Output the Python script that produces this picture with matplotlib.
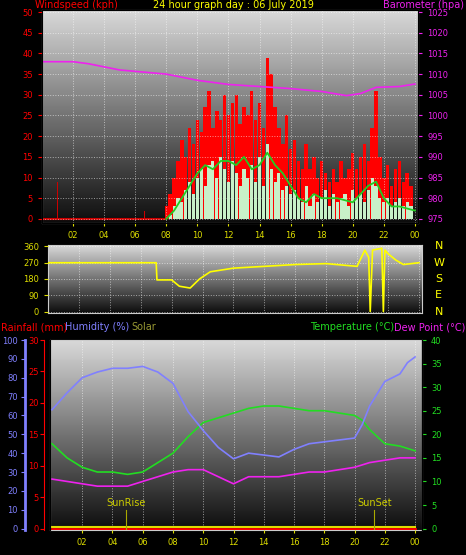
import numpy as np
import matplotlib
matplotlib.use("Agg")
import matplotlib.pyplot as plt

# wind, 15 min steps from 08:00
gust_t = np.arange(8.0, 24.0, 0.25)
gust = [3, 6, 10, 14, 19, 15, 22, 18, 24, 21, 27, 31, 22, 26, 24, 30,
        25, 28, 30, 23, 27, 25, 31, 24, 28, 22, 39, 35, 27, 22, 18, 25,
        17, 19, 14, 12, 18, 12, 15, 10, 14, 11, 9, 12, 9, 14, 10, 12,
        16, 12, 15, 18, 14, 22, 31, 15, 10, 13, 8, 12, 14, 9, 11, 8]
avg = [0, 1, 3, 5, 4, 7, 9, 6, 10, 12, 8, 13, 14, 10, 15, 12,
       9, 14, 11, 8, 12, 10, 13, 9, 15, 8, 18, 12, 9, 11, 7, 8,
       6, 7, 5, 4, 8, 3, 6, 4, 5, 7, 3, 6, 4, 5, 6, 3,
       7, 5, 6, 4, 7, 10, 8, 5, 4, 5, 3, 4, 5, 3, 4, 3]
wavg_t = [8, 8.5, 9, 9.5, 10, 10.5, 11, 11.5, 12, 12.5, 13, 13.5, 14, 14.5, 15, 15.5,
          16, 16.5, 17, 17.5, 18, 19, 20, 20.5, 21, 21.5, 22, 22.5, 23, 24]
wavg = [0, 2, 5, 8, 11, 13, 12, 14, 14, 13, 15, 12, 13, 16, 13, 11,
        8, 5, 4, 6, 5, 5, 4, 6, 8, 9, 5, 3, 3, 2]
spike_t = [1.0, 6.6]
spike = [9, 2]

baro_t = [0, 2, 3, 5, 8, 10, 12, 14, 16, 18, 19.6, 20.5, 21.5, 23, 24]
baro = [1013, 1013, 1012.5, 1011, 1010, 1008.5, 1007.5, 1007, 1006.5, 1005.8, 1004.8, 1005.3, 1006.8, 1007, 1007.6]

dir_t = [0, 7, 7.05, 8, 8.5, 9.2, 9.8, 10.5, 12, 14, 16, 18, 20, 20.5, 20.75, 20.85, 21,
         21.6, 21.7, 21.8, 22, 22.5, 23, 24]
wdir = [270, 270, 175, 175, 140, 130, 180, 220, 240, 250, 260, 265, 250, 340, 300, 0, 340,
        350, 0, 340, 320, 285, 260, 270]

hrs = [0, 1, 2, 3, 4, 5, 6, 7, 8, 9, 10, 11, 12, 13, 14, 15, 16, 17, 18, 19, 20, 20.5, 21, 22, 23, 23.5, 24]
hum = [63, 72, 80, 83, 85, 85, 86, 83, 77, 62, 52, 43, 37, 40, 39, 38, 42, 45, 46, 47, 48, 55, 65, 78, 82, 88, 91]
temp = [18, 15, 13, 12, 12, 11.5, 12, 14, 16, 19.5, 22.5, 23.5, 24.5, 25.5, 26, 26, 25.5, 25, 25, 24.5, 24, 23, 21, 18, 17.5, 17, 16.5]
dew = [10.5, 10, 9.5, 9, 9, 9, 10, 11, 12, 12.5, 12.5, 11, 9.5, 11, 11, 11, 11.5, 12, 12, 12.5, 13, 13.5, 14, 14.5, 15, 15, 15]

xticks = [2, 4, 6, 8, 10, 12, 14, 16, 18, 20, 22, 24]
xlabels = ["02", "04", "06", "08", "10", "12", "14", "16", "18", "20", "22", "00"]

W, H = 466, 555
fig = plt.figure(figsize=(W / 100, H / 100), dpi=100, facecolor="black")
plt.rcParams["font.size"] = 6


def px(l, t, r, b):
    return [l / W, 1 - b / H, (r - l) / W, (b - t) / H]


def backdrop(ax):
    grad = np.linspace(0.85, 0.05, 200).reshape(-1, 1)
    ax.imshow(grad, cmap="gray", vmin=0, vmax=1, aspect="auto",
              extent=[0, 1, 0, 1], transform=ax.transAxes, zorder=0)
    ax.set_facecolor("black")
    ax.grid(True, color="white", ls=":", lw=0.7, alpha=0.55, zorder=1)
    ax.set_axisbelow(False)
    for s in ax.spines.values():
        s.set_color("#cccccc")


# panel 1: wind and barometer
ax1 = fig.add_axes(px(42, 10, 418, 223))
backdrop(ax1)
ax1.bar(gust_t, gust, width=0.22, color="red", zorder=2)
ax1.bar(spike_t, spike, width=0.08, color="#cc0000", zorder=2)
ax1.plot([0, 8], [0, 0], color="#cc0000", lw=1.5, zorder=2)
ax1.bar(gust_t, avg, width=0.2, color="#c8f0c8", zorder=3)
ax1.plot(wavg_t, wavg, color="#22cc22", lw=1.3, zorder=4)
ax1.set_xlim(0, 24.2)
ax1.set_ylim(-1, 50.5)
ax1.set_yticks(range(0, 51, 5))
ax1.set_xticks(xticks)
ax1.set_xticklabels(xlabels)
ax1.tick_params(axis="y", colors="red", length=3)
ax1.tick_params(axis="x", colors="#dddd00", length=2)
ax1b = ax1.twinx()
ax1b.plot(baro_t, baro, color="#ee22ee", lw=1.2)
ax1b.set_ylim(974, 1025.5)
ax1b.set_yticks(range(975, 1026, 5))
ax1b.tick_params(colors="#ee22ee", length=3)
fig.text(35 / W, 1 - 5 / H, "Windspeed (kph)", color="red", fontsize=7, va="center")
fig.text(0.5, 1 - 5 / H, "24 hour graph day : 06 July 2019", color="yellow", fontsize=7, va="center", ha="center")
fig.text(464 / W, 1 - 5 / H, "Barometer (hpa)", color="#ee22ee", fontsize=7, va="center", ha="right")

# panel 2: wind direction
ax2 = fig.add_axes(px(48, 245, 422, 313))
backdrop(ax2)
ax2.plot(dir_t, wdir, color="yellow", lw=1.2, zorder=3)
ax2.set_xlim(0, 24.2)
ax2.set_ylim(-8, 368)
ax2.set_yticks([0, 90, 180, 270, 360])
ax2.set_xticks(xticks)
ax2.set_xticklabels([])
ax2.tick_params(axis="y", colors="#dddd00", length=3)
ax2.tick_params(axis="x", length=0)
for y, lab in zip([0, 90, 180, 270, 360], ["N", "E", "S", "W", "N"]):
    ax2.text(1.045, (y + 8) / 376, lab, color="yellow", fontsize=8,
             transform=ax2.transAxes, va="center", ha="center")

# panel 3: temperature, humidity, rain
ax3 = fig.add_axes(px(50, 340, 422, 530))
backdrop(ax3)
ax3.set_xlim(-0.13, 24.46)
ax3.set_ylim(-0.3, 40)
ax3.set_xticks(xticks)
ax3.set_xticklabels(xlabels)
ax3.set_yticks([])
ax3.tick_params(axis="x", colors="#dddd00", length=2)
ax3.plot(hrs, temp, color="#22dd22", lw=1.2, zorder=4)
ax3.plot(hrs, dew, color="#ee22ee", lw=1.2, zorder=4)
ax3.plot([0, 24], [0.3, 0.3], color="#dddd00", lw=1.5, zorder=3)
ax3.plot([0, 24], [0, 0], color="red", lw=2, zorder=3)
for t, lab in [(4.9, "SunRise"), (21.3, "SunSet")]:
    ax3.plot([t, t], [0, 4], color="#aaaa00", lw=0.8, zorder=3)
    ax3.text(t, 4.3, lab, color="#cccc00", fontsize=7, ha="center", va="bottom", zorder=5)
ax3r = ax3.twinx()
ax3r.set_ylim(-0.3, 40)
ax3r.set_yticks(range(0, 41, 5))
ax3r.tick_params(colors="#22dd22", length=3)
ax3h = ax3.twinx()
ax3h.plot(hrs, hum, color="#8080ff", lw=1.2, zorder=4)
ax3h.set_ylim(-0.75, 100)
ax3h.set_yticks(range(0, 101, 10))
ax3h.yaxis.set_ticks_position("left")
ax3h.spines["left"].set_position(("outward", 18))
ax3h.spines["left"].set_color("#8080ff")
ax3h.spines["left"].set_linewidth(2)
ax3h.tick_params(colors="#8080ff", length=3, pad=2)
ax3rain = ax3.twinx()
ax3rain.set_ylim(-0.22, 30)
ax3rain.set_yticks(range(0, 31, 5))
ax3rain.yaxis.set_ticks_position("left")
ax3rain.spines["left"].set_position(("outward", 4))
ax3rain.spines["left"].set_color("red")
ax3rain.tick_params(colors="red", length=3, pad=1)
for a in (ax3r, ax3h, ax3rain):
    a.spines["top"].set_visible(False)
    a.spines["bottom"].set_visible(False)
fig.text(1 / W, 1 - 327 / H, "Rainfall (mm)", color="red", fontsize=7, va="center")
fig.text(65 / W, 1 - 327 / H, "Humidity (%)", color="#8080ff", fontsize=7, va="center")
fig.text(131 / W, 1 - 327 / H, "Solar", color="#999933", fontsize=7, va="center")
fig.text(310 / W, 1 - 327 / H, "Temperature (°C)", color="#22dd22", fontsize=7, va="center")
fig.text(465 / W, 1 - 327 / H, "Dew Point (°C)", color="#ee22ee", fontsize=7, va="center", ha="right")

fig.savefig("out.png", dpi=100, facecolor="black")
